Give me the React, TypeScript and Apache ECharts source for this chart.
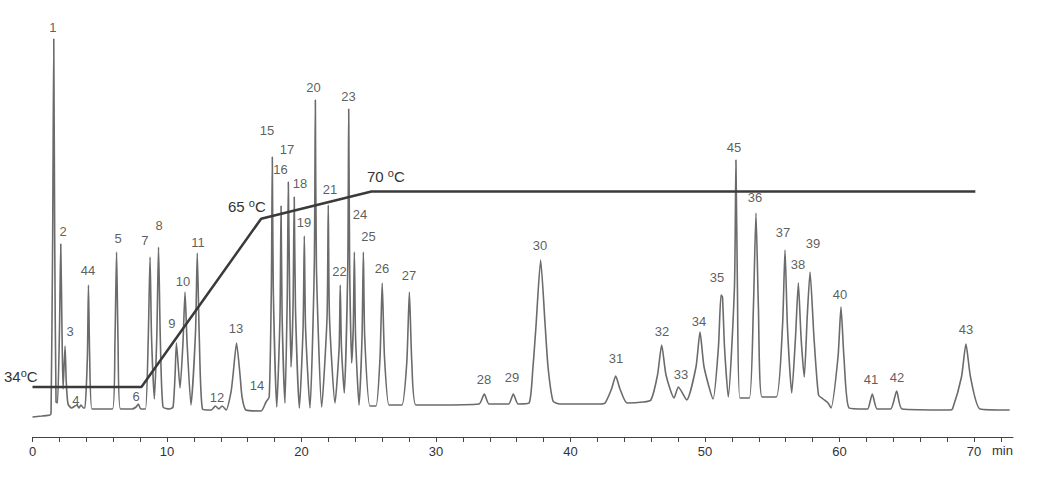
import React, { useEffect, useRef } from "react";
import * as echarts from "echarts";

// Chromatogram trace: [retention time (min), detector signal]
const trace: [number, number][] = [
  [0, 20], [0.7, 21], [1.3, 22], [1.38, 24], [1.5, 200], [1.58, 398], [1.65, 200], [1.75, 35],
  [1.86, 34], [2.01, 110], [2.1, 193], [2.19, 110], [2.27, 48], [2.42, 91], [2.51, 55], [2.64, 33],
  [2.9, 29], [3.3, 32], [3.45, 29], [3.6, 32], [3.8, 29], [3.9, 29], [4.08, 80], [4.16, 152],
  [4.25, 80], [4.42, 28], [5.0, 28], [5.95, 28], [6.13, 95], [6.25, 185], [6.36, 95], [6.54, 28],
  [7.4, 28], [7.7, 30], [7.87, 33], [8.05, 28], [8.4, 28], [8.6, 95], [8.74, 180], [8.85, 100],
  [9.06, 38], [9.24, 100], [9.37, 190], [9.5, 100], [9.7, 30], [10.2, 28], [10.45, 30], [10.6, 62],
  [10.7, 94], [10.97, 49], [11.19, 95], [11.34, 145], [11.49, 95], [11.78, 32], [12.12, 105],
  [12.25, 184], [12.4, 100], [12.64, 28], [13.3, 27], [13.6, 31], [13.85, 28], [14.1, 31],
  [14.4, 27], [14.76, 45], [14.91, 62], [15.17, 94], [15.43, 62], [15.58, 40], [15.87, 27],
  [17.0, 26], [17.36, 35], [17.6, 40], [17.76, 150], [17.83, 280], [17.9, 150], [18.16, 30],
  [18.4, 120], [18.48, 231], [18.56, 120], [18.77, 34], [18.94, 140], [19.02, 255], [19.12, 140],
  [19.22, 70], [19.37, 130], [19.46, 240], [19.55, 130], [19.84, 29], [20.12, 110], [20.21, 201],
  [20.3, 110], [20.63, 29], [20.95, 170], [21.03, 337], [21.11, 170], [21.5, 30], [21.9, 120],
  [21.99, 232], [22.08, 120], [22.49, 34], [22.8, 90], [22.88, 152], [22.97, 90], [23.18, 44],
  [23.44, 170], [23.51, 328], [23.58, 170], [23.73, 74], [23.85, 110], [23.93, 185], [24.02, 100],
  [24.28, 32], [24.5, 100], [24.6, 185], [24.7, 100], [25.09, 31], [25.54, 31], [25.84, 80],
  [26.0, 154], [26.17, 80], [26.5, 32], [26.95, 32], [27.47, 32], [27.83, 75], [28.02, 145],
  [28.2, 75], [28.51, 32], [30, 32], [33.2, 33], [33.59, 43], [33.95, 33], [35.4, 33], [35.75, 43],
  [36.1, 33], [36.92, 34], [37.21, 70], [37.43, 110], [37.78, 177], [38.1, 115], [38.33, 70],
  [38.7, 36], [39.2, 33], [42.2, 33], [42.57, 34], [43.05, 48], [43.36, 61], [43.68, 48],
  [44.2, 34], [45.4, 35], [45.98, 37], [46.47, 62], [46.78, 92], [47.1, 62], [47.7, 39],
  [48.02, 50], [48.64, 37], [49.33, 70], [49.63, 105], [49.93, 70], [50.6, 38], [51.0, 90],
  [51.19, 142], [51.3, 140], [51.45, 90], [51.73, 40], [52.19, 150], [52.3, 277], [52.41, 150],
  [52.6, 39], [53.3, 39], [53.6, 130], [53.79, 224], [53.97, 130], [54.24, 40], [55.3, 40],
  [55.76, 110], [55.95, 187], [56.13, 110], [56.45, 44], [56.73, 100], [56.94, 154], [57.14, 100],
  [57.38, 60], [57.6, 120], [57.81, 165], [58.1, 100], [58.44, 42], [58.78, 38], [59.15, 34],
  [59.37, 29], [59.89, 80], [60.11, 130], [60.33, 80], [60.71, 29], [61.9, 28], [62.1, 28],
  [62.44, 43], [62.8, 28], [63.8, 28], [64.25, 46], [64.65, 28], [68.2, 27], [68.4, 28],
  [69.07, 60], [69.4, 93], [69.74, 60], [70.45, 28], [72.65, 27],
];

// Oven temperature program: [time (min), temperature (°C)]
const tempProgram: [number, number][] = [
  [0, 34], [8.1, 34], [17.0, 65], [25.2, 70], [70.1, 70],
];

// Peak numbers and their label anchor positions [time, signal, name]
const peakLabels: [number, number, string][] = [
  [1.52, 410, "1"], [2.27, 206, "2"], [2.79, 106, "3"], [3.23, 37, "4"], [4.13, 167, "44"],
  [6.36, 199, "5"], [7.7, 41, "6"], [8.36, 197, "7"], [9.41, 212, "8"], [10.37, 114, "9"],
  [11.19, 156, "10"], [12.3, 195, "11"], [13.72, 40, "12"], [15.13, 109, "13"], [16.69, 52, "14"],
  [17.43, 307, "15"], [18.44, 268, "16"], [18.92, 288, "17"], [19.89, 254, "18"], [20.19, 215, "19"],
  [20.89, 350, "20"], [22.12, 248, "21"], [22.83, 166, "22"], [23.49, 341, "23"], [24.35, 223, "24"],
  [24.98, 201, "25"], [25.99, 169, "26"], [27.99, 162, "27"], [33.57, 58, "28"], [35.65, 60, "29"],
  [37.73, 192, "30"], [43.38, 79, "31"], [46.8, 106, "32"], [48.22, 63, "33"], [49.55, 116, "34"],
  [50.89, 160, "35"], [52.16, 290, "45"], [53.72, 240, "36"], [55.8, 205, "37"], [56.91, 173, "38"],
  [58.03, 194, "39"], [60.04, 143, "40"], [62.34, 58, "41"], [64.28, 60, "42"], [69.41, 108, "43"],
];

const tickValues = [0, 2, 4, 6, 8, 10, 12, 14, 16, 18, 20, 22, 24, 26, 28, 30, 32, 34, 36, 38, 40,
  42, 44, 46, 48, 50, 52, 54, 56, 58, 60, 62, 64, 66, 68, 70, 72];
const labelValues = [0, 10, 20, 30, 40, 50, 60, 70];

const FONT = "'Liberation Sans', Arial, sans-serif";

const tempText = (num: string) => ({
  text: `{n|${num}}{s|o}{n|C}`,
  rich: {
    n: { fontSize: 15, fontFamily: FONT, fill: "#333", lineHeight: 17, verticalAlign: "bottom" },
    s: { fontSize: 11, fontFamily: FONT, fill: "#333", lineHeight: 17, verticalAlign: "top" },
  },
});

export default function App() {
  const ref = useRef<HTMLDivElement>(null);
  useEffect(() => {
    if (!ref.current) return;
    const chart = echarts.init(ref.current, null, { renderer: "svg" });
    chart.setOption({
      animation: false,
      backgroundColor: "#ffffff",
      grid: { left: 32.5, right: 41, top: 17, bottom: 41, containLabel: false },
      xAxis: {
        type: "value",
        min: 0,
        max: 72.9,
        interval: 2,
        axisLine: { show: true, lineStyle: { color: "#444", width: 1 } },
        axisTick: { show: true, customValues: tickValues, length: 5, lineStyle: { color: "#444" } },
        axisLabel: {
          customValues: labelValues,
          color: "#333",
          fontSize: 13,
          fontFamily: FONT,
          margin: 8,
        },
        splitLine: { show: false },
      },
      yAxis: [
        { type: "value", min: 0, max: 420, show: false, splitLine: { show: false } },
        { type: "value", min: 24.8, max: 102.13, show: false, splitLine: { show: false } },
      ],
      graphic: [
        { type: "text", left: 4, top: 367, style: tempText("34") },
        { type: "text", left: 228, top: 197, style: tempText("65 ") },
        { type: "text", left: 367, top: 167, style: tempText("70 ") },
        {
          type: "text",
          left: 992,
          top: 444,
          style: { text: "min", fontSize: 13, fontFamily: FONT, fill: "#333" },
        },
      ],
      series: [
        {
          type: "line",
          data: trace,
          yAxisIndex: 0,
          showSymbol: false,
          smooth: 0.2,
          lineStyle: { color: "#6b6b6b", width: 1.6 },
          z: 2,
        },
        {
          type: "line",
          data: tempProgram,
          yAxisIndex: 1,
          showSymbol: false,
          lineStyle: { color: "#3a3a3a", width: 2.5 },
          z: 3,
        },
        {
          type: "scatter",
          data: peakLabels,
          yAxisIndex: 0,
          symbolSize: 1,
          clip: false,
          itemStyle: { color: "rgba(0,0,0,0)" },
          label: {
            show: true,
            position: "inside",
            formatter: (p: any) => p.data[2],
            color: "#333",
            fontSize: 13,
            fontFamily: FONT,
          },
          z: 4,
        },
      ],
    });
    return () => chart.dispose();
  }, []);
  return (
    <div
      ref={ref}
      style={{ position: "absolute", left: 0, top: 0, width: 1054, height: 478 }}
    />
  );
}
